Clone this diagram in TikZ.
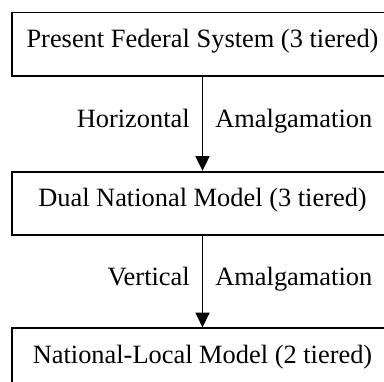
\documentclass[tikz,border=0pt]{standalone}
\usepackage{fontspec}
\setmainfont{Liberation Serif}
\usetikzlibrary{arrows.meta}
\tikzset{
  stagebox/.style={draw=black, line width=1.35pt, minimum width=285.75pt, minimum height=47.6pt,
    inner sep=0pt, text height=12pt, text depth=7.5pt, font=\fontsize{19.8pt}{23pt}\selectfont},
  flowarrow/.style={draw=black, line width=1.25pt, -{Triangle[length=11pt,width=10.5pt]}},
  lbl/.style={inner sep=0pt, font=\fontsize{19.8pt}{23pt}\selectfont}
}
\begin{document}
\begin{tikzpicture}[x=0.75pt,y=-0.75pt]
\useasboundingbox (0,0) rectangle (384,381);
\clip (0,0) rectangle (384,381);
\node[stagebox] (b1) at (202.5,44.3) {Present Federal System (3 tiered)};
\node[stagebox] (b2) at (202.5,203.4) {Dual National Model (3 tiered)};
\node[stagebox] (b3) at (202.5,360) {National-Local Model (2 tiered)};
\draw[flowarrow] (b1.south) -- (b2.north)
  node[lbl, midway, anchor=base east, xshift=-9pt, yshift=-2.85pt] (l1) {Horizontal}
  node[lbl, midway, anchor=base west, xshift=9pt, yshift=-2.85pt] (l2) {Amalgamation};
\draw[flowarrow] (b2.south) -- (b3.north)
  node[lbl, midway, anchor=base east, xshift=-9pt, yshift=-2.85pt] (l3) {Vertical}
  node[lbl, midway, anchor=base west, xshift=9pt, yshift=-2.85pt] (l4) {Amalgamation};
\end{tikzpicture}
\end{document}
